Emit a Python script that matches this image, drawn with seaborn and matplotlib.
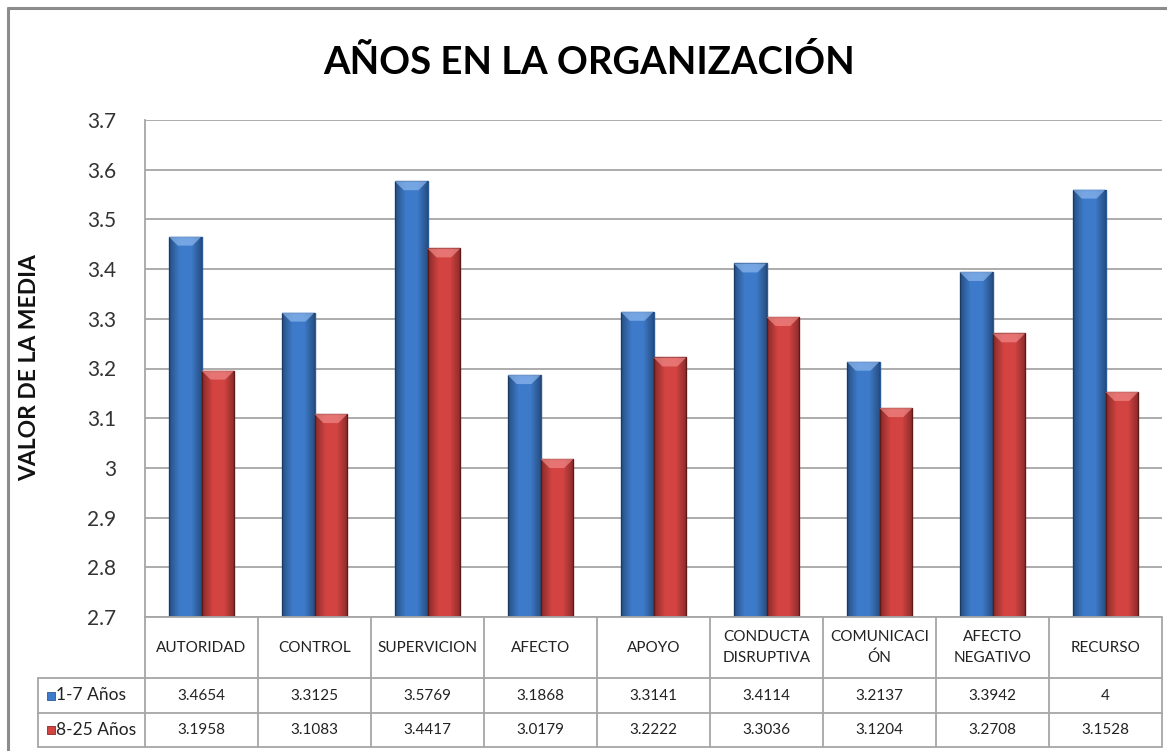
import matplotlib
matplotlib.use("Agg")
import matplotlib.pyplot as plt
from matplotlib.patches import Rectangle, Polygon
from matplotlib.lines import Line2D
import numpy as np
import pandas as pd
import seaborn as sns

# data
categorias = ["AUTORIDAD", "CONTROL", "SUPERVICION", "AFECTO", "APOYO",
              "CONDUCTA\nDISRUPTIVA", "COMUNICACI\nÓN", "AFECTO\nNEGATIVO", "RECURSO"]
grupos = ["1-7 Años", "8-25 Años"]
valores_1_7 = [3.4654, 3.3125, 3.5769, 3.1868, 3.3141, 3.4114, 3.2137, 3.3942, 3.56]
valores_8_25 = [3.1958, 3.1083, 3.4417, 3.0179, 3.2222, 3.3036, 3.1204, 3.2708, 3.1528]
# text shown in the data table (as printed in the original)
tabla_1_7 = ["3.4654", "3.3125", "3.5769", "3.1868", "3.3141", "3.4114", "3.2137", "3.3942", "4"]
tabla_8_25 = ["3.1958", "3.1083", "3.4417", "3.0179", "3.2222", "3.3036", "3.1204", "3.2708", "3.1528"]
y_ticks = [2.7, 2.8, 2.9, 3.0, 3.1, 3.2, 3.3, 3.4, 3.5, 3.6, 3.7]
y_tick_labels = ["2.7", "2.8", "2.9", "3", "3.1", "3.2", "3.3", "3.4", "3.5", "3.6", "3.7"]

colores = ["#3D7BCA", "#D24341"]
bordes = ["#2A5A98", "#8C2826"]
claros = ["#8DB8EE", "#F08A88"]

sns.set_theme(style="white")
plt.rcParams['font.family'] = ['Lato', 'DejaVu Sans']

df = pd.DataFrame({
    "categoria": categorias * 2,
    "valor": valores_1_7 + valores_8_25,
    "grupo": [grupos[0]] * len(categorias) + [grupos[1]] * len(categorias),
})

W, H = 1167, 751
fig = plt.figure(figsize=(W / 100, H / 100), dpi=100)

# plot area in pixels
px_l, px_r, px_t, px_b = 145, 1162, 120, 617
ax = fig.add_axes([px_l / W, 1 - px_b / H, (px_r - px_l) / W, (px_b - px_t) / H])

sns.barplot(data=df, x="categoria", y="valor", hue="grupo", palette=colores,
            width=0.58, ax=ax, legend=False, saturation=1)
n = len(categorias)
ymin, ymax = 2.7, 3.7
unit = (px_r - px_l) / n
ypx = (ymax - ymin) / (px_b - px_t)

# cylinder-like shading and bevelled top, as in the Excel original
shade = np.zeros((1, 64, 4))
xs = np.linspace(-1, 1, 64)
shade[0, :, 3] = np.clip(np.abs(xs) - 0.35, 0, None) * 0.55
for i, p in enumerate(list(ax.patches[:2 * n])):
    k = i // n
    p.set_edgecolor(bordes[k])
    p.set_linewidth(1.0)
    x0 = p.get_x()
    w = p.get_width()
    top = p.get_height()
    im = ax.imshow(shade, extent=[x0, x0 + w, ymin, top], aspect="auto", zorder=p.get_zorder() + 0.1)
    im.set_clip_path(p)
    d = 9 / unit
    bev = Polygon([[x0, top], [x0 + w, top], [x0 + w - d, top - 9 * ypx], [x0 + d, top - 9 * ypx]],
                  closed=True, facecolor=claros[k], edgecolor="none", alpha=0.7,
                  zorder=p.get_zorder() + 0.2)
    ax.add_patch(bev)

ax.set_ylim(ymin, ymax)
ax.set_xlim(-0.5, n - 0.5)
ax.set_yticks(y_ticks)
ax.set_yticklabels(y_tick_labels, fontsize=15, color="#333333")
ax.tick_params(axis="y", pad=21, length=0)
ax.set_xticks([])
ax.set_xlabel("")
ax.set_ylabel("")
ax.yaxis.grid(True, color="#a6a6a6", linewidth=1.3)
ax.set_axisbelow(True)
for s in ["top", "right", "bottom"]:
    ax.spines[s].set_visible(False)
ax.spines["left"].set_color("#a6a6a6")
ax.spines["left"].set_linewidth(1.3)

fig.text(30 / W, 1 - 368 / H, "VALOR DE LA MEDIA", rotation=90, ha="center", va="center",
         fontsize=16.5, fontweight="bold", color="#111111")
fig.text(589 / W, 1 - 62 / H, "AÑOS EN LA ORGANIZACIÓN", ha="center", va="center",
         fontsize=27.5, fontweight="bold", color="#000000")

# data table below the plot
tl, tb = 38, 748
tax = fig.add_axes([tl / W, 1 - tb / H, (px_r - tl) / W, (tb - px_b) / H])
x0 = -0.5 - (px_l - tl) / unit
tax.set_xlim(x0, n - 0.5)
tax.set_ylim(tb - px_b, 0)
tax.axis("off")
gc = "#a6a6a6"
lw = 1.3
r1, r2, r3 = 61, 96, 130
for yy, xs_ in [(0, -0.5), (r1, x0), (r2, x0), (r3, x0)]:
    tax.add_line(Line2D([xs_, n - 0.5], [yy, yy], color=gc, lw=lw, clip_on=False))
tax.add_line(Line2D([x0, x0], [r1, r3], color=gc, lw=lw, clip_on=False))
for k in range(n + 1):
    tax.add_line(Line2D([k - 0.5, k - 0.5], [0, r3], color=gc, lw=lw, clip_on=False))

fs = 11
for i, c in enumerate(categorias):
    tax.text(i, r1 / 2, c, ha="center", va="center", fontsize=fs, color="#222222",
             linespacing=1.6)
    tax.text(i, (r1 + r2) / 2, tabla_1_7[i], ha="center", va="center", fontsize=fs, color="#222222")
    tax.text(i, (r2 + r3) / 2, tabla_8_25[i], ha="center", va="center", fontsize=fs, color="#222222")

for yy, g, col, bc in [((r1 + r2) / 2, grupos[0], colores[0], bordes[0]),
                       ((r2 + r3) / 2, grupos[1], colores[1], bordes[1])]:
    tax.add_patch(Rectangle((x0 + 9 / unit, yy - 4), 8 / unit, 8, facecolor=col, edgecolor=bc, lw=0.6,
                            clip_on=False))
    tax.text(x0 + 18 / unit, yy, g, ha="left", va="center", fontsize=12.5, color="#222222")

# outer chart border
fig.add_artist(Line2D([8 / W, 8 / W], [0, 1 - 8 / H], color="#8c8c8c", lw=2.2, transform=fig.transFigure))
fig.add_artist(Line2D([8 / W, 1], [1 - 8 / H, 1 - 8 / H], color="#8c8c8c", lw=2.2, transform=fig.transFigure))

fig.savefig("out.png", dpi=100)
